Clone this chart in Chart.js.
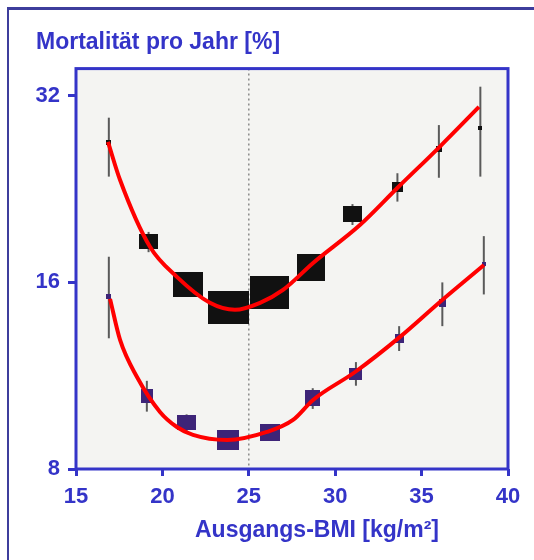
<!DOCTYPE html>
<html><head><meta charset="utf-8">
<script src="https://cdn.jsdelivr.net/npm/chart.js@4"></script>
<style>
html,body{margin:0;padding:0;background:#fff;overflow:hidden;}
#wrap{position:relative;width:534px;height:560px;overflow:hidden;background:#fff;}
#frame{position:absolute;left:7px;top:7px;width:600px;height:600px;border-left:2px solid #3d3d9c;border-top:3px solid #3d3d9c;}
canvas{position:absolute;left:0;top:0;}
</style></head><body>
<div id="wrap"><div id="frame"></div><canvas id="c" width="534" height="560"></canvas></div>
<script>
// ---- data ----
const yTitle = 'Mortalität pro Jahr [%]';
const xTitle = 'Ausgangs-BMI [kg/m²]';
const xTicks = [15, 20, 25, 30, 35, 40];
const yTicks = [8, 16, 32];
const refLineBmi = 25;

const bmiUpper  = [16.9, 19.2, 21.5, 23.8, 26.2, 28.6, 31.0, 33.6, 36.0, 38.4];
const mortUpper = [26.9, 18.6, 15.9, 14.6, 15.4, 16.9, 20.6, 22.8, 26.3, 28.4];
const upperHigh = [29.5, 19.3, 16.5, 15.0, 16.0, 17.6, 21.4, 24.0, 28.7, 33.1];
const upperLow  = [23.7, 17.9, 15.2, 14.1, 14.8, 16.2, 19.8, 21.6, 23.6, 23.7];

const bmiLower  = [16.9, 19.1, 21.4, 23.8, 26.2, 28.7, 31.2, 33.7, 36.2, 38.6];
const mortLower = [15.2, 10.5, 9.5, 8.9, 9.15, 10.4, 11.4, 13.0, 14.8, 17.1];
const lowerHigh = [17.6, 11.1, 9.8, 9.1, 9.4, 10.8, 11.9, 13.6, 16.0, 19.0];
const lowerLow  = [13.0, 9.9, 9.2, 8.7, 8.9, 10.0, 10.9, 12.4, 13.6, 15.3];

const upperFitBmi  = [16.85, 17.55, 19.28, 20.84, 22.75, 24.2, 25.65, 26.98, 28.72, 31.43, 33.58, 36.06, 38.32];
const upperFitMort = [26.97, 23.4, 18.26, 16.33, 14.83, 14.45, 14.83, 15.56, 17.2, 19.8, 22.7, 26.5, 30.7];
const lowerFitBmi  = [16.97, 17.55, 18.53, 19.86, 20.84, 21.77, 23.74, 26.05, 27.56, 28.72, 31.15, 33.75, 36.06, 38.61];
const lowerFitMort = [15.05, 12.92, 11.26, 9.89, 9.35, 9.08, 8.91, 9.18, 9.6, 10.34, 11.47, 13.07, 14.88, 17.07];

// ---- marker styles (pixel sizes, not data) ----
const upperMarkW = [5, 19, 30, 41, 39, 28, 19, 11, 6, 4];
const upperMarkH = [5, 15, 25, 33, 33, 27, 16, 10, 6, 4];
const lowerMarkW = [5, 12, 19, 22, 20, 15, 13, 9, 7, 4];
const lowerMarkH = [5, 14, 15, 20, 17, 16, 12, 9, 8, 4];

const BLUE = '#3434c8';
const FONT = "'Liberation Sans', Arial, sans-serif";
const UPPER_COL = '#111111';
const LOWER_COL = '#3d2478';

const cache = {};
function rectImg(w, h, col) {
  const k = w + 'x' + h + col;
  if (cache[k]) return cache[k];
  const c = document.createElement('canvas');
  c.width = w; c.height = h;
  const g = c.getContext('2d');
  g.fillStyle = col; g.fillRect(0, 0, w, h);
  cache[k] = c;
  return c;
}

const pts = (xs, ys) => xs.map((x, i) => ({x: x, y: ys[i]}));

const decor = {
  id: 'decor',
  beforeDraw(chart) {
    const {ctx, chartArea: a} = chart;
    ctx.save();
    ctx.fillStyle = '#f4f4f2';
    ctx.fillRect(a.left, a.top, a.right - a.left, a.bottom - a.top);
    ctx.restore();
  },
  beforeDatasetsDraw(chart) {
    const {ctx, chartArea: a, scales: {x, y}} = chart;
    ctx.save();
    // dotted reference line
    const rx = x.getPixelForValue(refLineBmi);
    ctx.strokeStyle = '#8a8a8a';
    ctx.lineWidth = 1.5;
    ctx.setLineDash([2, 3]);
    ctx.beginPath(); ctx.moveTo(rx, a.top); ctx.lineTo(rx, a.bottom); ctx.stroke();
    ctx.setLineDash([]);
    // error bars
    ctx.strokeStyle = '#5a5a5a';
    ctx.lineWidth = 2;
    const bars = (xs, hi, lo) => xs.forEach((v, i) => {
      const px = x.getPixelForValue(v);
      ctx.beginPath();
      ctx.moveTo(px, y.getPixelForValue(hi[i]));
      ctx.lineTo(px, y.getPixelForValue(lo[i]));
      ctx.stroke();
    });
    bars(bmiUpper, upperHigh, upperLow);
    bars(bmiLower, lowerHigh, lowerLow);
    ctx.restore();
  },
  afterDraw(chart) {
    const {ctx, chartArea: a} = chart;
    ctx.save();
    ctx.strokeStyle = BLUE;
    ctx.lineWidth = 3;
    ctx.strokeRect(a.left, a.top, a.right - a.left, a.bottom - a.top);
    ctx.fillStyle = BLUE;
    ctx.font = 'bold 23px ' + FONT;
    ctx.textAlign = 'center';
    ctx.textBaseline = 'alphabetic';
    ctx.fillText(xTitle, (a.left + a.right) / 2 + 25, 537);
    ctx.restore();
  }
};

const tickFont = {family: FONT, size: 22, weight: 'bold'};

new Chart(document.getElementById('c'), {
  type: 'scatter',
  data: {
    datasets: [
      {data: pts(upperFitBmi, upperFitMort), showLine: true, borderColor: '#ff0000', borderWidth: 4,
       pointRadius: 0, cubicInterpolationMode: 'monotone', order: 0},
      {data: pts(lowerFitBmi, lowerFitMort), showLine: true, borderColor: '#ff0000', borderWidth: 4,
       pointRadius: 0, cubicInterpolationMode: 'monotone', order: 0},
      {data: pts(bmiUpper, mortUpper), pointRadius: 3, order: 1,
       pointStyle: c => rectImg(upperMarkW[c.dataIndex] || 4, upperMarkH[c.dataIndex] || 4, UPPER_COL)},
      {data: pts(bmiLower, mortLower), pointRadius: 3, order: 1,
       pointStyle: c => rectImg(lowerMarkW[c.dataIndex] || 4, lowerMarkH[c.dataIndex] || 4, LOWER_COL)}
    ]
  },
  options: {
    responsive: false,
    animation: false,
    devicePixelRatio: 1,
    layout: {padding: {left: 36, right: 26, top: 0, bottom: 0}},
    plugins: {
      legend: {display: false},
      tooltip: {enabled: false},
      title: {display: true, text: yTitle, align: 'start', color: BLUE,
              font: {family: FONT, size: 23, weight: 'bold', lineHeight: 1.2},
              padding: {top: 29, bottom: 12}}
    },
    scales: {
      x: {
        type: 'linear', min: 15, max: 40,
        afterBuildTicks: s => { s.ticks = xTicks.map(v => ({value: v})); },
        afterFit: s => { s.height = 91; },
        ticks: {color: BLUE, font: tickFont, padding: 8, callback: v => String(v)},
        grid: {drawOnChartArea: false, drawTicks: true, tickLength: 7, color: BLUE, lineWidth: 3},
        border: {display: false}
      },
      y: {
        type: 'logarithmic', min: 8, max: 35.4,
        afterBuildTicks: s => { s.ticks = yTicks.map(v => ({value: v})); },
        afterFit: s => { s.width = 40; },
        ticks: {color: BLUE, font: tickFont, padding: 8, callback: v => String(v)},
        grid: {drawOnChartArea: false, drawTicks: true, tickLength: 8, color: BLUE, lineWidth: 3},
        border: {display: false}
      }
    }
  },
  plugins: [decor]
});
</script>
</body></html>
